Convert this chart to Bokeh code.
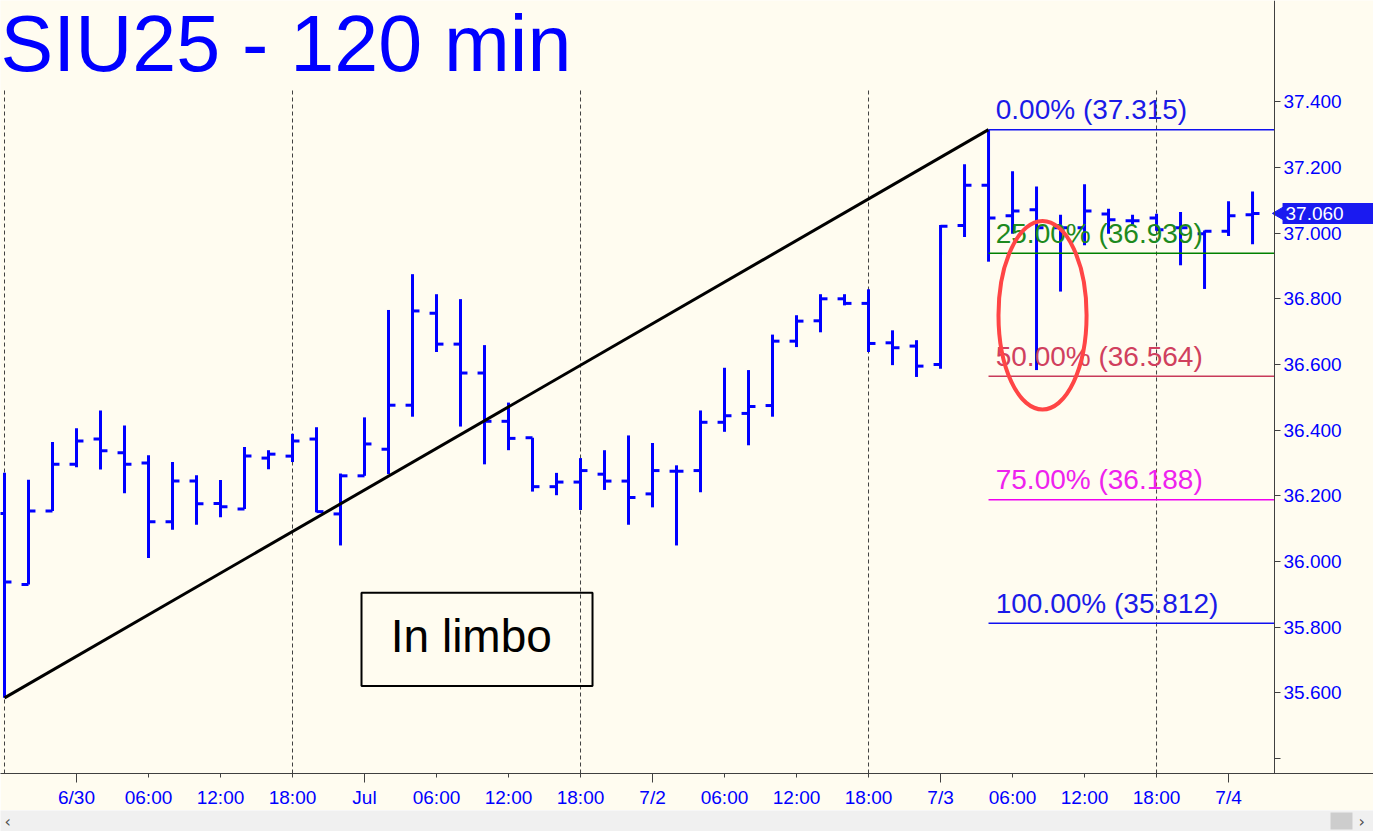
import math
from bokeh.plotting import figure
from bokeh.models import FixedTicker, NumeralTickFormatter, Label, BoxAnnotation, Range1d
from bokeh.layouts import column
from bokeh.embed import file_html
from bokeh.resources import INLINE
from bokeh.core.properties import value

FONT = "Liberation Sans"
BG = "#FFFCF0"
BLUE = "#0000FF"
TAG_BLUE = "#1A1AF0"

# ---- data: 120-min OHLC bars, first bar 6/29 18:00 ----
opens = [36.146, 35.930, 36.154, 36.296, 36.373, 36.331, 36.300, 36.121, 36.245, 36.177,
         36.160, 36.315, 36.321, 36.373, 36.145, 36.261, 36.342, 36.476, 36.756, 36.662,
         36.574, 36.427, 36.377, 36.228, 36.242, 36.266, 36.245, 36.206, 36.275, 36.277,
         36.424, 36.451, 36.475, 36.671, 36.733, 36.800, 36.786, 36.666, 36.656, 36.600,
         37.023, 37.146, 37.053, 37.071, 37.016, 37.016, 37.058, 37.038, 37.046, 37.016,
         36.998, 37.006, 37.056]
highs = [36.270, 36.249, 36.364, 36.406, 36.460, 36.414, 36.324, 36.303, 36.263, 36.248,
         36.349, 36.339, 36.389, 36.409, 36.268, 36.439, 36.766, 36.875, 36.814, 36.799,
         36.659, 36.484, 36.377, 36.270, 36.315, 36.339, 36.384, 36.361, 36.293, 36.460,
         36.590, 36.583, 36.691, 36.750, 36.814, 36.814, 36.829, 36.704, 36.674, 37.025,
         37.210, 37.315, 37.188, 37.142, 37.056, 37.149, 37.074, 37.056, 37.059, 37.064,
         37.008, 37.097, 37.127]
lows = [35.585, 35.930, 36.154, 36.287, 36.280, 36.208, 36.011, 36.097, 36.112, 36.135,
        36.160, 36.281, 36.303, 36.150, 36.049, 36.261, 36.266, 36.441, 36.638, 36.411,
        36.296, 36.339, 36.213, 36.202, 36.157, 36.218, 36.112, 36.165, 36.049, 36.211,
        36.395, 36.354, 36.441, 36.653, 36.698, 36.780, 36.638, 36.598, 36.562, 36.587,
        36.988, 36.913, 36.998, 36.583, 36.822, 36.963, 36.998, 37.023, 37.007, 36.902,
        36.830, 36.991, 36.966]
closes = [35.938, 36.154, 36.296, 36.367, 36.337, 36.296, 36.121, 36.245, 36.176, 36.167,
          36.321, 36.327, 36.367, 36.152, 36.261, 36.358, 36.476, 36.763, 36.662, 36.574,
          36.427, 36.375, 36.228, 36.242, 36.277, 36.245, 36.195, 36.277, 36.275, 36.424,
          36.444, 36.472, 36.671, 36.732, 36.800, 36.786, 36.664, 36.651, 36.595, 37.021,
          37.146, 37.046, 37.067, 37.016, 37.016, 37.067, 37.041, 37.038, 37.010, 37.016,
          37.006, 37.053, 37.060]
bar_idx = list(range(len(opens)))

# time axis (bar index -> label)
time_tick_idx = [3, 6, 9, 12, 15, 18, 21, 24, 27, 30, 33, 36, 39, 42, 45, 48, 51]
time_tick_labels = ["6/30", "06:00", "12:00", "18:00", "Jul", "06:00", "12:00", "18:00",
                    "7/2", "06:00", "12:00", "18:00", "7/3", "06:00", "12:00", "18:00", "7/4"]
day_tick_idx = [3, 15, 27, 39, 51]
session_start_idx = [0, 12, 24, 36, 48]

price_ticks = [35.6, 35.8, 36.0, 36.2, 36.4, 36.6, 36.8, 37.0, 37.2, 37.4]
price_minor_ticks = [35.4]

fib_pcts = ["0.00%", "25.00%", "50.00%", "75.00%", "100.00%"]
fib_values = [37.315, 36.939, 36.564, 36.188, 35.812]
fib_line_colors = ["#1010F0", "#008000", "#C83A5A", "#F000F0", "#1010F0"]
fib_text_colors = ["#1A1AE8", "#1E8A1E", "#D0405E", "#EE22EE", "#1A1AE8"]

title_text = "SIU25 - 120 min"
note_text = "In limbo"

# ---- figure ----
X0, X1 = -0.1667, 57.04      # visible bar-index span (frame runs under the price axis)
AXIS_X = 52.917              # price axis sits here
Y0, Y1 = 35.3547, 37.7082
p = figure(width=1373, height=810, x_range=Range1d(X0, X1), y_range=Range1d(Y0, Y1),
           y_axis_location="right", toolbar_location=None, output_backend="svg",
           background_fill_color=BG, border_fill_color=BG,
           min_border_left=0, min_border_top=0, min_border_right=0, min_border_bottom=31)
p.outline_line_color = None
p.grid.visible = False

# session dashed lines
p.segment(x0=session_start_idx, y0=[Y0] * len(session_start_idx),
          x1=session_start_idx, y1=[37.436] * len(session_start_idx),
          line_color="#404040", line_width=1, line_dash="4 3")

# OHLC bars
tw = 0.29
p.segment(x0=bar_idx, y0=lows, x1=bar_idx, y1=highs, line_color=BLUE, line_width=3)
p.segment(x0=[i - tw for i in bar_idx], y0=opens, x1=bar_idx, y1=opens, line_color=BLUE, line_width=3)
p.segment(x0=bar_idx, y0=closes, x1=[i + tw for i in bar_idx], y1=closes, line_color=BLUE, line_width=3)

# trend line from swing low to swing high
i_lo = lows.index(min(lows))
i_hi = highs.index(max(highs))
p.line(x=[i_lo, i_hi], y=[lows[i_lo], highs[i_hi]], line_color="black", line_width=3)

# fib retracement lines
p.segment(x0=[i_hi] * 5, y0=fib_values, x1=[AXIS_X] * 5, y1=fib_values,
          line_color=fib_line_colors, line_width=1.5)
p.text(x=[i_hi + 0.3] * 5, y=fib_values,
       text=[f"{pc} ({v:.3f})" for pc, v in zip(fib_pcts, fib_values)],
       text_color=fib_text_colors, text_font=value(FONT), text_font_size="28px",
       text_baseline="middle", y_offset=-20)

# red ellipse
p.ellipse(x=[43.25], y=[36.75], width=3.67, height=0.574, fill_color=None,
          line_color="#FF4545", line_width=4)

# "In limbo" box
p.add_layout(BoxAnnotation(left=14.875, right=24.5, bottom=35.621, top=35.905,
                           fill_color=None, line_color="black", line_alpha=1.0, line_width=2))
p.add_layout(Label(x=19.45, y=35.772, text=note_text, text_font=FONT, text_font_size="46px",
                   text_color="black", text_align="center", text_baseline="middle"))

# title
p.add_layout(Label(x=0, y=730, x_units="screen", y_units="screen", text=title_text,
                   text_font=FONT, text_font_size="79px", text_color=BLUE,
                   text_baseline="middle"))

# last price tag on the price axis
p.scatter(x=[AXIS_X + 0.27], y=[closes[-1]], marker="triangle", size=15, angle=math.pi / 2,
          fill_color=TAG_BLUE, line_color=TAG_BLUE)
p.add_layout(Label(x=AXIS_X, x_offset=8, y=closes[-1], text=f"{closes[-1]:.3f}",
                   text_font=FONT, text_font_size="19px", text_color="white",
                   background_fill_color=TAG_BLUE, text_baseline="middle",
                   padding=dict(left=3, right=32, top=4, bottom=4)))

# axes
xa = p.xaxis[0]
xa.ticker = FixedTicker(ticks=time_tick_idx, minor_ticks=day_tick_idx)
xa.major_label_overrides = {i: lab for i, lab in zip(time_tick_idx, time_tick_labels)}
xa.major_tick_in = 0
xa.major_tick_out = 4
xa.minor_tick_in = 0
xa.minor_tick_out = 9
xa.major_label_standoff = 4
xa.major_label_text_font = FONT
xa.major_label_text_font_size = "19px"
xa.major_label_text_color = BLUE
xa.axis_line_color = "#404040"
xa.major_tick_line_color = "#404040"
xa.minor_tick_line_color = "#404040"

ya = p.yaxis[0]
ya.fixed_location = AXIS_X
ya.ticker = FixedTicker(ticks=price_ticks, minor_ticks=price_minor_ticks)
ya.formatter = NumeralTickFormatter(format="0.000")
ya.major_tick_in = 0
ya.major_tick_out = 6
ya.minor_tick_in = 0
ya.minor_tick_out = 6
ya.major_label_standoff = 3
ya.major_label_text_font = FONT
ya.major_label_text_font_size = "19px"
ya.major_label_text_color = BLUE
ya.axis_line_color = "#404040"
ya.major_tick_line_color = "#404040"
ya.minor_tick_line_color = "#404040"

# scrollbar strip
sb = figure(width=1373, height=21, x_range=Range1d(0, 1373), y_range=Range1d(0, 21),
            toolbar_location=None, output_backend="svg", min_border=0,
            background_fill_color="#F0F0F0", border_fill_color="#F0F0F0")
sb.outline_line_color = None
sb.axis.visible = False
sb.grid.visible = False
sb.quad(left=[1330], right=[1352], bottom=[2], top=[19], fill_color="#CDCDCD", line_color=None)
sb.text(x=[4, 1358], y=[10.5, 10.5], text=["\u2039", "\u203A"], text_color="#505050",
        text_font=value("DejaVu Sans"), text_font_size="16px", text_baseline="middle")

layout = column(p, sb, spacing=0)
open("out.html", "w").write(file_html(layout, INLINE))
